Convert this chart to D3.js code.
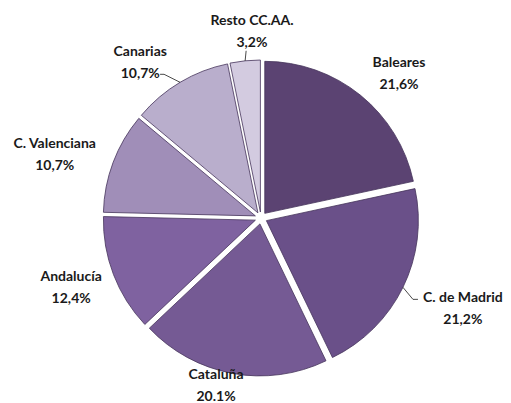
<!DOCTYPE html>
<html>
<head>
<meta charset="utf-8">
<script src="https://cdnjs.cloudflare.com/ajax/libs/d3/7.8.5/d3.min.js"></script>
<style>
  body { margin: 0; background: #fff; }
  text { font-family: Lato, 'Open Sans', sans-serif; font-weight: bold; font-size: 14px; fill: #1a1a1a; }
</style>
</head>
<body>
<div id="chart"></div>
<script>
var regions = ['Baleares', 'C. de Madrid', 'Cataluña', 'Andalucía', 'C. Valenciana', 'Canarias', 'Resto CC.AA.']
var shares = [21.6, 21.2, 20.1, 12.4, 10.7, 10.7, 3.2]
var shareLabels = ['21,6%', '21,2%', '20.1%', '12,4%', '10,7%', '10,7%', '3,2%']
var colors = ['#5b4372', '#6a5089', '#755a94', '#7f62a0', '#a08eb8', '#b9aecc', '#d3cbe0']

var width = 511
var height = 403
var cx = 261
var cy = 218
var radius = 152
var explode = 6

var svg = d3
  .select('#chart')
  .append('svg')
  .attr('width', width)
  .attr('height', height)

var g = svg.append('g').attr('transform', 'translate(' + cx + ',' + cy + ')')

var pie = d3.pie().sort(null).value(d => d)

var arc = d3
  .arc()
  .innerRadius(0)
  .outerRadius(radius)

var slices = pie(shares)

function mid(d) {
  return (d.startAngle + d.endAngle) / 2
}

function polar(a, r) {
  return [Math.sin(a) * r, -Math.cos(a) * r]
}

g.selectAll('path')
  .data(slices)
  .enter()
  .append('path')
  .attr('d', arc)
  .attr('fill', (d, i) => colors[i])
  .attr('stroke', '#45345a')
  .attr('stroke-width', 0.8)
  .attr('transform', function(d) {
    var p = polar(mid(d), explode)
    return 'translate(' + p[0] + ',' + p[1] + ')'
  })

// label placement: radius and angle nudge (degrees) around each slice bisector
var labelRadius = [200, 221, 173, 202, 216, 197, 187]
var labelTurn = [4.7, -2, 4.6, 1, -3.4, -7, 3]

var labels = g
  .selectAll('.label')
  .data(slices)
  .enter()
  .append('text')
  .attr('class', 'label')
  .attr('text-anchor', 'middle')
  .attr('transform', function(d, i) {
    var p = polar(mid(d) + (labelTurn[i] * Math.PI) / 180, labelRadius[i])
    return 'translate(' + p[0] + ',' + p[1] + ')'
  })

labels
  .append('tspan')
  .attr('x', 0)
  .attr('y', -6)
  .text((d, i) => regions[i])

labels
  .append('tspan')
  .attr('x', 0)
  .attr('y', 16)
  .text((d, i) => shareLabels[i])

// leader lines for the labels that sit away from their slice
var line = d3.line()
var edge = radius + explode

function leader(i, pts) {
  var s = polar(mid(slices[i]), edge)
  g.append('path')
    .attr('d', line([s].concat(pts)))
    .attr('fill', 'none')
    .attr('stroke', '#1a1a1a')
    .attr('stroke-width', 0.8)
}

// C. de Madrid
var madridStart = polar(mid(slices[1]), edge)
leader(1, [[madridStart[0] + 10, madridStart[1] + 12], [madridStart[0] + 15, madridStart[1] + 12]])
// Canarias
var canStart = polar(mid(slices[5]), edge)
leader(5, [[canStart[0] - 16, canStart[1] - 8], [canStart[0] - 20, canStart[1] - 8]])
// Resto
var restoStart = polar(mid(slices[6]), edge)
leader(6, [[restoStart[0] + 1, restoStart[1] - 10]])
</script>
</body>
</html>
